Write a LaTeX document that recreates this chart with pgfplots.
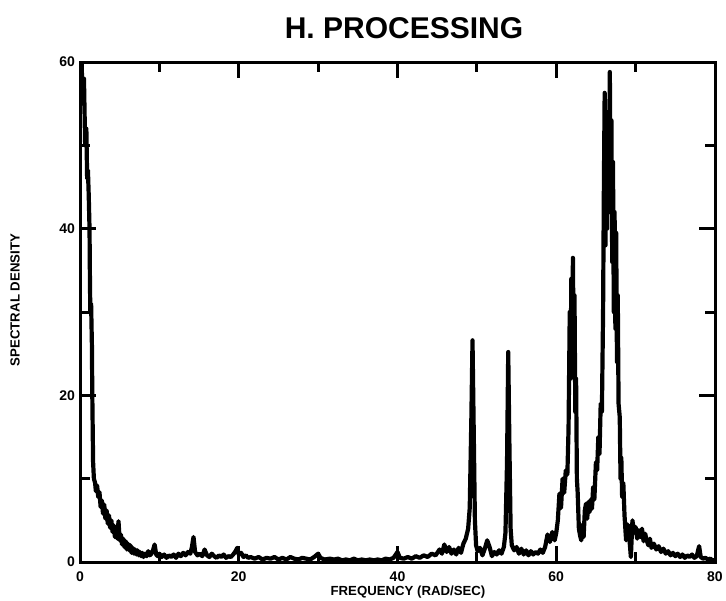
\documentclass[border=0pt]{standalone}
\usepackage{fontspec}
\setmainfont{Liberation Sans}
\usepackage{pgfplots}
\pgfplotsset{compat=1.18}
\usepackage{pgfplotstable}

% Power spectral density of the processed signal
\pgfplotstableread{
w S
0.00 60
0.20 60
0.35 55
0.50 58
0.65 50
0.80 52
0.90 46
1.00 47
1.10 44
1.20 40
1.25 34
1.30 30
1.40 31
1.50 26
1.55 20
1.60 16
1.65 12
1.75 10
1.90 9.5
2.00 8.5
2.15 9.2
2.30 7.8
2.45 8.4
2.60 6.6
2.75 7.4
2.90 5.8
3.05 6.9
3.20 5.2
3.35 6.2
3.50 4.6
3.65 5.6
3.80 4.1
3.95 5.0
4.10 3.6
4.25 4.4
4.40 3.0
4.55 3.8
4.70 2.8
4.85 4.9
5.00 2.6
5.15 3.3
5.30 2.1
5.45 2.8
5.60 1.8
5.75 2.5
5.90 1.5
6.05 2.2
6.20 1.4
6.35 2.0
6.50 1.1
6.65 1.7
6.80 1.0
6.95 1.5
7.10 0.9
7.25 1.4
7.40 0.8
7.55 1.2
7.70 0.7
7.85 1.1
8.00 0.6
8.20 1.0
8.40 0.7
8.60 1.3
8.80 0.8
9.00 1.0
9.20 1.4
9.40 2.1
9.60 0.9
9.80 0.7
10.0 1.0
10.3 0.6
10.6 0.9
10.9 0.5
11.2 0.8
11.5 0.6
11.8 0.9
12.1 0.5
12.4 1.0
12.7 0.7
13.0 1.1
13.3 0.8
13.6 1.2
13.9 1.0
14.1 1.8
14.3 3.0
14.5 1.2
14.8 0.8
15.1 1.0
15.4 0.7
15.7 1.5
16.0 0.8
16.3 0.6
16.6 1.0
16.9 0.7
17.2 0.5
17.5 0.8
17.8 0.6
18.1 0.9
18.4 0.5
18.7 0.7
19.0 0.6
19.3 0.9
19.6 1.3
19.8 1.7
20.0 0.9
20.3 1.1
20.6 0.6
20.9 0.8
21.2 0.5
21.5 0.6
22.0 0.4
22.5 0.6
23.0 0.3
23.5 0.5
24.0 0.4
24.5 0.6
25.0 0.3
25.5 0.5
26.0 0.3
26.5 0.6
27.0 0.4
27.5 0.3
28.0 0.5
28.5 0.4
29.0 0.3
29.5 0.6
30.0 1.0
30.3 0.5
30.8 0.3
31.5 0.4
32.0 0.3
32.5 0.4
33.0 0.2
33.5 0.3
34.0 0.2
34.5 0.4
35.0 0.2
35.5 0.3
36.0 0.2
36.5 0.3
37.0 0.2
37.5 0.3
38.0 0.2
38.5 0.4
39.0 0.3
39.5 0.5
40.0 1.2
40.3 0.5
40.8 0.4
41.3 0.6
41.8 0.4
42.3 0.7
42.8 0.5
43.3 0.8
43.8 0.6
44.3 1.0
44.8 0.8
45.3 1.5
45.6 1.0
45.9 2.1
46.2 1.2
46.5 1.8
46.8 1.0
47.1 1.5
47.4 0.9
47.7 1.7
48.0 1.1
48.3 2.2
48.6 2.8
48.9 4.0
49.1 6.5
49.3 17
49.45 26.6
49.6 16
49.75 5
49.9 2.0
50.1 1.3
50.4 1.7
50.7 0.8
51.0 1.6
51.3 2.6
51.6 1.8
51.9 0.7
52.2 1.2
52.5 0.9
52.8 1.4
53.1 1.0
53.4 1.8
53.6 3.5
53.8 12
53.95 25.2
54.1 14
54.25 4
54.4 2.0
54.7 1.4
55.0 1.8
55.3 1.0
55.6 1.6
55.9 0.9
56.2 1.4
56.5 0.8
56.8 1.3
57.1 0.9
57.4 1.2
57.7 1.0
58.0 1.5
58.3 1.1
58.6 1.8
58.9 3.3
59.2 2.4
59.5 3.6
59.8 2.6
60.0 3.5
60.2 5.0
60.4 8.2
60.6 6.5
60.8 10.0
61.0 8.3
61.2 11.0
61.4 10.5
61.55 16
61.7 30
61.8 22
61.9 34
62.0 26
62.1 36.5
62.2 24
62.3 32
62.4 18
62.5 22
62.6 10
62.7 8.3
62.85 4
63.0 3.2
63.15 2.6
63.3 4.5
63.45 3.0
63.6 6.2
63.75 7.0
63.9 5.2
64.05 7.2
64.2 6.0
64.35 7.5
64.5 6.4
64.65 9.0
64.8 7.5
65.0 12
65.15 11
65.3 15
65.45 13
65.6 19
65.75 18
65.9 30
66.0 45
66.1 56.3
66.2 38
66.3 52
66.4 40
66.5 54
66.6 42
66.75 58.8
66.85 44
66.95 53
67.05 36
67.15 48
67.25 30
67.35 42
67.45 28
67.55 39.5
67.65 24
67.75 32
67.85 19
68.0 17.4
68.1 10
68.2 12.5
68.3 7.8
68.45 9.5
68.6 5.6
68.8 2.6
69.0 4.5
69.2 3.0
69.4 0.6
69.6 5.0
69.8 3.5
70.0 4.2
70.2 2.8
70.4 3.8
70.6 3.0
70.8 4.0
71.0 2.5
71.2 3.4
71.4 2.6
71.6 2.0
71.8 2.8
72.0 1.7
72.3 2.2
72.6 1.5
72.9 1.9
73.2 1.2
73.5 1.6
73.8 1.0
74.1 1.3
74.4 0.8
74.7 1.1
75.0 0.7
75.3 1.0
75.6 0.6
75.9 0.9
76.2 0.5
76.5 0.8
76.8 0.6
77.1 0.9
77.4 0.5
77.7 0.7
78.0 1.9
78.2 0.6
78.5 0.4
78.8 0.5
79.1 0.3
79.4 0.4
79.7 0.2
80.0 0.2
}\spectrum

\begin{document}
\begin{tikzpicture}
\path[use as bounding box] (-40pt,-19pt) rectangle (323pt,281pt);
\begin{axis}[
  at={(0pt,0pt)}, anchor=south west,
  scale only axis, width=317.5pt, height=250pt,
  xmin=0, xmax=80, ymin=0, ymax=60,
  xtick={0,20,40,60,80}, ytick={0,20,40,60},
  minor xtick={10,30,50,70}, minor ytick={10,30,50},
  tick align=inside,
  major tick length=8pt, minor tick length=5pt,
  axis line style={line width=1.5pt},
  every tick/.style={line width=1.5pt, black},
  /pgf/number format/assume math mode=true,
  ticklabel style={font=\bfseries\fontsize{7}{8}\selectfont},
  xticklabel style={yshift=-1.5pt},
  yticklabel style={xshift=1pt},
]
\addplot[black, line width=2.1pt, line join=round] table[x=w, y=S] {\spectrum};
\end{axis}
\node[font=\bfseries\fontsize{15}{18}\selectfont] at (162pt,267pt) {H. PROCESSING};
\node[font=\bfseries\fontsize{6.6}{8}\selectfont] at (164pt,-15pt) {FREQUENCY (RAD/SEC)};
\node[font=\bfseries\fontsize{6.6}{8}\selectfont, rotate=90] at (-32.5pt,131pt) {SPECTRAL DENSITY};
\end{tikzpicture}
\end{document}
